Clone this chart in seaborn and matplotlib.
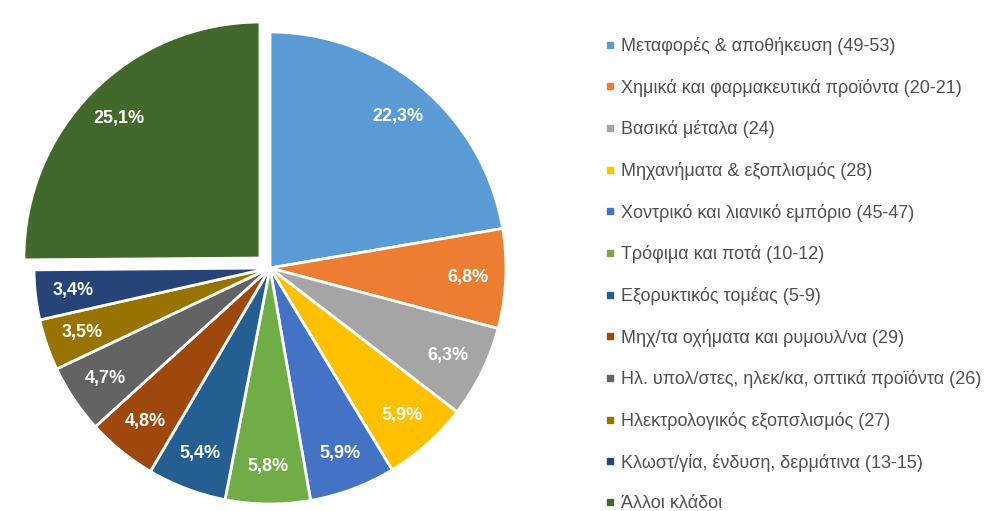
import matplotlib
matplotlib.use('Agg')
import matplotlib.pyplot as plt
from matplotlib.lines import Line2D
import seaborn as sns

sns.set_style("white")
plt.rcParams['font.family'] = ['Liberation Sans', 'DejaVu Sans']

labels = [
    "Μεταφορές & αποθήκευση (49-53)",
    "Χημικά και φαρμακευτικά προϊόντα (20-21)",
    "Βασικά μέταλα (24)",
    "Μηχανήματα & εξοπλισμός (28)",
    "Χοντρικό και λιανικό εμπόριο (45-47)",
    "Τρόφιμα και ποτά (10-12)",
    "Εξορυκτικός τομέας (5-9)",
    "Μηχ/τα οχήματα και ρυμουλ/να (29)",
    "Ηλ. υπολ/στες, ηλεκ/κα, οπτικά προϊόντα (26)",
    "Ηλεκτρολογικός εξοπσλισμός (27)",
    "Κλωστ/γία, ένδυση, δερμάτινα (13-15)",
    "Άλλοι κλάδοι",
]
shares = [22.3, 6.8, 6.3, 5.9, 5.9, 5.8, 5.4, 4.8, 4.7, 3.5, 3.4, 25.1]
colors = ["#5B9BD5", "#ED7D31", "#A5A5A5", "#FFC000", "#4472C4", "#70AD47",
          "#255E91", "#9E480E", "#636363", "#997300", "#264478", "#43682B"]
explode = [0] * 11 + [0.06]

fig = plt.figure(figsize=(9.99, 5.11), dpi=100)
# pie centre ~ (270, 268) px, radius ~236 px
r = 236
ax = fig.add_axes([(270 - r) / 999, (511 - 268 - r) / 511, 2 * r / 999, 2 * r / 511])
wedges, _, autotexts = ax.pie(
    shares, colors=colors, startangle=90, counterclock=False, explode=explode,
    autopct=lambda p: f"{p:.1f}%".replace(".", ","), pctdistance=0.84,
    wedgeprops=dict(edgecolor="white", linewidth=2),
    textprops=dict(color="white", fontsize=13, fontweight="bold"),
    radius=1, frame=False)
for w in wedges:
    w.set_clip_on(False)
ax.set_xlim(-1, 1)
ax.set_ylim(-1, 1)
ax.set_aspect("equal")
ax.axis("off")

handles = [Line2D([], [], marker="s", linestyle="none", markersize=4,
                  markerfacecolor=c, markeredgecolor=c) for c in colors]
fig.legend(handles, labels, loc="upper left", bbox_to_anchor=(606 / 999, 1 - 37 / 511),
           frameon=False, fontsize=13, labelspacing=1.31, handlelength=0.4,
           handletextpad=0.45, labelcolor="#505050", borderaxespad=0, borderpad=0)

fig.savefig("out.png", dpi=100, facecolor="white")
